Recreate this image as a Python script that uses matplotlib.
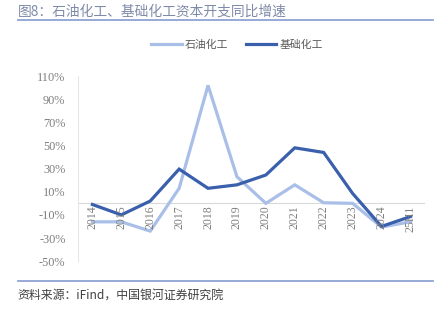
import matplotlib
matplotlib.use("Agg")
import matplotlib.pyplot as plt
from matplotlib.lines import Line2D

plt.rcParams['font.family'] = ['Noto Sans CJK SC', 'DejaVu Sans']

years = ['2014', '2015', '2016', '2017', '2018', '2019', '2020',
         '2021', '2022', '2023', '2024', '25H1']
petro = [-16, -16, -24, 13, 102, 23, 0, 16, 0.5, 0, -20.5, -16]
basic = [-1, -10, 2, 29.6, 13, 16, 24.5, 48, 44, 8.6, -20, -11.5]
series_names = ['石油化工', '基础化工']
colors = ['#a9bfe8', '#3a60ad']
yticks = list(range(-50, 111, 20))

fig = plt.figure(figsize=(4.43, 3.24), dpi=100)
ax = fig.add_axes([0.176, 0.194, 0.783, 0.571])

x = list(range(len(years)))
ax.plot(x, petro, color=colors[0], lw=2.3, solid_joinstyle='miter')
ax.plot(x, basic, color=colors[1], lw=2.3, solid_joinstyle='miter')

ax.set_xlim(-0.5, len(years) - 0.5)
ax.set_ylim(-50, 110)
ax.set_yticks(yticks)
ax.set_yticklabels([f'{v}%' for v in yticks], family='Liberation Serif',
                   fontsize=8.8, color='#7f7f7f')
ax.tick_params(axis='y', length=0, pad=9)
ax.set_xticks([])
ax.axhline(0, color='#d9d9d9', lw=0.8, zorder=0)

for s in ['top', 'right', 'bottom']:
    ax.spines[s].set_visible(False)
ax.spines['left'].set_color('#e6e6e6')
ax.spines['left'].set_linewidth(0.8)

# category labels sit just under the zero line
for i, lab in enumerate(years):
    ax.text(i, -2, lab, rotation=90, ha='center', va='top',
            family='Liberation Serif', fontsize=8.5, color='#7f7f7f')

# legend
handles = [Line2D([0], [0], color=c, lw=2.3) for c in colors]
fig.legend(handles, series_names, loc='center', bbox_to_anchor=(0.535, 0.862),
           ncol=2, frameon=False, fontsize=7.8, handlelength=2.8,
           handletextpad=0.3, columnspacing=1.6,
           labelcolor='#595959')

# title and source
fig.text(0.04, 0.965, '图8：石油化工、基础化工资本开支同比增速', fontsize=9.9,
         color='#7f8aa8', va='center')
fig.add_artist(Line2D([0.04, 0.978], [0.938, 0.938], color='#8fa4d3', lw=1.3))
fig.add_artist(Line2D([0.04, 0.978], [0.133, 0.133], color='#8fa4d3', lw=1.3))
fig.text(0.04, 0.09, '资料来源：iFind，中国银河证券研究院', fontsize=8.6,
         color='#404040', style='italic', va='center')

fig.savefig('out.png', dpi=100)
